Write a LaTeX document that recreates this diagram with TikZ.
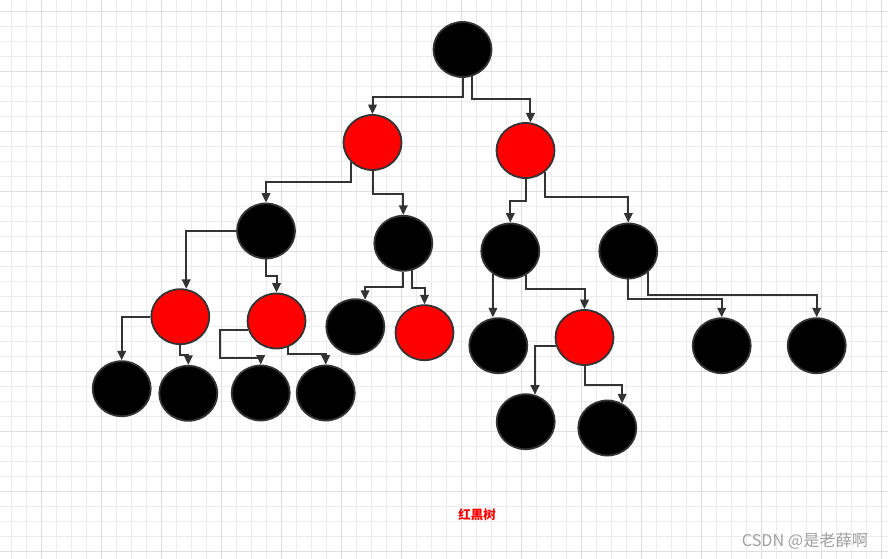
\documentclass[tikz,border=0pt]{standalone}
\usepackage{fontspec}
\newfontfamily\cjk{Noto Sans CJK SC}
\usetikzlibrary{shapes.geometric,arrows.meta}
\definecolor{rbred}{RGB}{255,0,0}
\definecolor{edgecol}{RGB}{51,51,51}
\definecolor{gridmin}{RGB}{236,236,236}
\definecolor{gridmaj}{RGB}{222,222,222}
\definecolor{markcol}{RGB}{160,160,160}

\begin{document}
\begin{tikzpicture}[x=1pt, y=-1pt,
    >={Triangle[length=9.5pt,width=8.5pt]},
    tnode/.style={ellipse, draw=edgecol, line width=1.8pt, minimum width=58pt, minimum height=55pt, inner sep=0pt},
    blacknode/.style={tnode, fill=black},
    rednode/.style={tnode, fill=rbred},
    link/.style={->, draw=edgecol, line width=2pt},
    gridline/.style={line width=0.8pt},
]
\fill[white] (0,0) rectangle (888,559);
\useasboundingbox (0,0) rectangle (888,559);
\foreach \g in {0,...,58} \draw[gridline, gridmin] ({11.7+15*\g},0) -- ({11.7+15*\g},559);
\foreach \g in {0,...,36} \draw[gridline, gridmin] (0,{11.7+15*\g}) -- (888,{11.7+15*\g});
\foreach \g in {0,...,14} \draw[gridline, gridmaj] ({41.7+60*\g},0) -- ({41.7+60*\g},559);
\foreach \g in {0,...,9} \draw[gridline, gridmaj] (0,{11.7+60*\g}) -- (888,{11.7+60*\g});

\node[blacknode] (root) at (462.5,49.5) {};
\node[rednode] (r1) at (372.5,142.5) {};
\node[rednode] (r2) at (525.5,150.5) {};
\node[blacknode] (b1) at (266,231) {};
\node[blacknode] (b2) at (403.3,243.3) {};
\node[blacknode] (b4) at (510.3,251) {};
\node[blacknode] (b6) at (628.3,251) {};
\node[rednode] (r3) at (180.3,316.7) {};
\node[rednode] (r4) at (276.5,321) {};
\node[blacknode] (b3) at (355.3,326.7) {};
\node[rednode] (r5) at (424.5,332.7) {};
\node[blacknode] (b5) at (498.3,345.7) {};
\node[rednode] (r6) at (584.5,337.5) {};
\node[blacknode] (l7) at (721.7,345.7) {};
\node[blacknode] (l8) at (816.7,345.7) {};
\node[blacknode] (l1) at (121.7,388.7) {};
\node[blacknode] (l2) at (188.3,393.3) {};
\node[blacknode] (l3) at (260.7,393) {};
\node[blacknode] (l4) at (325.7,393) {};
\node[blacknode] (l5) at (525.7,421.7) {};
\node[blacknode] (l6) at (607.3,428) {};

\draw[link] (root.south) -- ++(0,19) -| (r1.north);
\draw[link] (root.-70) -- ++(0,22.7) -| (r2.80);
\draw[link] (r1.-137) -- ++(0,20) -| (b1.north);
\draw[link] (r1.south) -- ++(0,23) -| (b2.north);
\draw[link] (r2.south) -- ++(0,22) -| (b4.north);
\draw[link] (r2.-48) -- ++(0,24.8) -| (b6.north);
\draw[link] (b1.west) -| (r3.78);
\draw[link] (b1.south) -- ++(0,16.5) -| (r4.north);
\draw[link] (r3.west) -| (l1.north);
\draw[link] (r3.south) -- ++(0,10) -| (l2.north);
\draw[link] (r4.-162) -| ++(-28.7,27.7) -| (l3.north);
\draw[link] (r4.-67) -- ++(0,6.6) -| (l4.north);
\draw[link] (b2.south) -- ++(0,15) -| (b3.70);
\draw[link] (b2.-72) -- ++(0,17.8) -| (r5.north);
\draw[link] (b4.-127) -- (b4.-127 |- b5.north);
\draw[link] (b4.-57) -- ++(0,14) -| (r6.north);
\draw[link] (r6.-164) -| (l5.71);
\draw[link] (r6.south) -- ++(0,19) -| (l6.59);
\draw[link] (b6.south) -- ++(0,19.5) -| (l7.north);
\draw[link] (b6.-47) -- ++(0,22.8) -| (l8.north);

\node[text=rbred, font=\cjk\bfseries\fontsize{12.5}{14}\selectfont] (title) at (477,515) {红黑树};
\node[text=markcol, font=\cjk\fontsize{16.2}{18}\selectfont] (mark) at (805,541) {CSDN @是老薛啊};
\end{tikzpicture}
\end{document}
